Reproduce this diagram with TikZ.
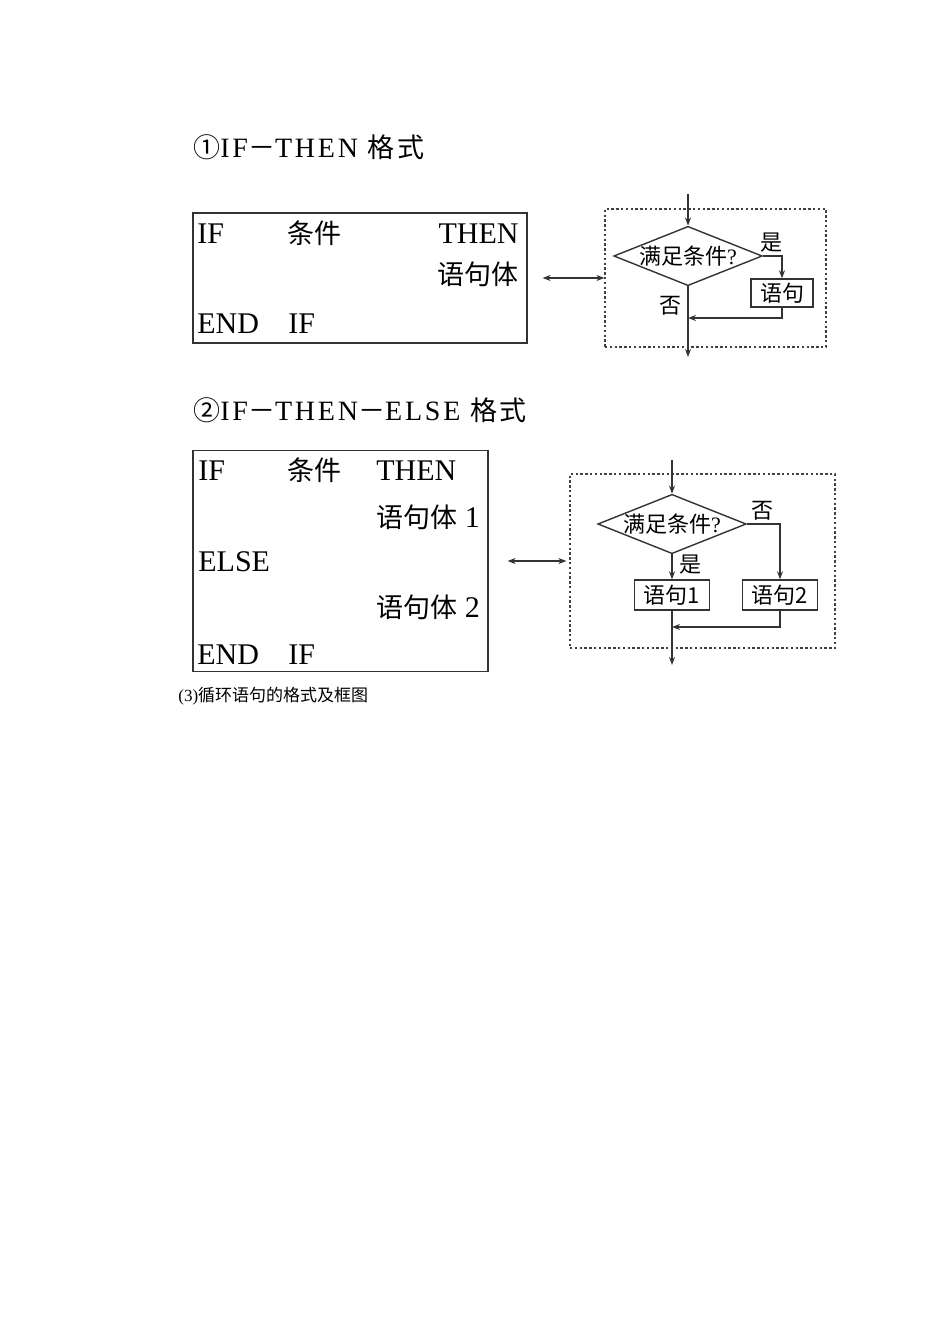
\documentclass[tikz,border=0pt]{standalone}
\usepackage{fontspec}
\setmainfont{Liberation Serif}
\newfontfamily\cjk{Noto Sans CJK SC}
\newfontfamily\titlefont[LetterSpace=10]{Liberation Serif}
\newfontfamily\titlecjk[LetterSpace=8]{Noto Sans CJK SC}
\usetikzlibrary{shapes.geometric,arrows.meta}

\newcommand{\zh}[1]{{\cjk\fontsize{13.5}{16}\selectfont #1}}
\newcommand{\tzh}[1]{{\titlecjk\fontsize{13.5}{16}\selectfont #1}}

\tikzset{
  txt/.style={inner sep=0pt, anchor=base west, font=\fontsize{15}{18}\selectfont},
  ttl/.style={inner sep=0pt, anchor=base west, font=\titlefont\fontsize{14}{17}\selectfont},
  codebox/.style={draw=black!80, line width=0.6pt, inner sep=0pt},
  frame/.style={draw=black!75, line width=0.6pt, dash pattern=on 1.2pt off 1.2pt, inner sep=0pt},
  cond/.style={diamond, draw=black!80, line width=0.7pt, aspect=2.5, inner sep=0pt, font=\fontsize{11}{13}\selectfont\cjk},
  stmt/.style={draw=black!80, line width=0.7pt, inner sep=0pt, font=\fontsize{11}{13}\selectfont\cjk},
  lbl/.style={inner sep=0pt, font=\fontsize{11}{13}\selectfont\cjk},
  arr/.style={draw=black!80, line width=0.7pt, -{Stealth[length=4pt,width=3pt]}},
  dbl/.style={draw=black!80, line width=0.6pt, {Stealth[length=4pt,width=3pt]}-{Stealth[length=4pt,width=3pt]}}
}

\begin{document}
\begin{tikzpicture}[x=0.5pt,y=-0.5pt]
  \useasboundingbox (0,0) rectangle (950,1344);

  % IF-THEN
  \node[ttl] (title1) at (193,157) {\tzh{①}IF\tzh{－}THEN \tzh{格式}};
  \node[codebox, minimum width=167pt, minimum height=65pt] (code1) at (360,278) {};
  \node[txt] (if1) at (197,243) {IF};
  \node[txt] (cnd1) at (287,243) {\zh{条件}};
  \node[txt, anchor=base east] (then1) at (519,243) {THEN};
  \node[txt, anchor=base east] (body1) at (519,284) {\zh{语句体}};
  \node[txt] (end1) at (197,333) {END};
  \node[txt] (endif1) at (288,333) {IF};

  \node[frame, minimum width=110.5pt, minimum height=69pt] (frame1) at (715.5,278) {};
  \draw[dbl] ([xshift=7.5pt]code1.east) -- (frame1.west);

  \coordinate (in1) at (688,194);
  \node[cond] (cond1) at (688,256) {满足条件\textrm{?}};
  \node[stmt, minimum width=31pt, minimum height=14pt] (stmt1) at (782,293) {语句};
  \coordinate (join1) at (688,318);
  \coordinate (out1) at (688,357);
  \draw[arr] (in1) -- (cond1.north);
  \draw[arr] (cond1.east) -| (stmt1.north);
  \draw[arr] (stmt1.south) |- (join1);
  \draw[arr] (cond1.south) -- (out1);
  \node[lbl] (yes1) at (771,243) {是};
  \node[lbl] (no1) at (670,306) {否};

  % IF-THEN-ELSE
  \node[ttl] (title2) at (193,420) {\tzh{②}IF\tzh{－}THEN\tzh{－}ELSE \tzh{格式}};
  \node[codebox, minimum width=147.5pt, minimum height=110.5pt] (code2) at (340.5,561) {};
  \node[txt] (if2) at (198,480) {IF};
  \node[txt] (cnd2) at (287,480) {\zh{条件}};
  \node[txt] (then2) at (376,480) {THEN};
  \node[txt] (bodya) at (376,527) {\zh{语句体} 1};
  \node[txt] (else2) at (198,571) {ELSE};
  \node[txt] (bodyb) at (376,617) {\zh{语句体} 2};
  \node[txt] (end2) at (197,664) {END};
  \node[txt] (endif2) at (288,664) {IF};

  \node[frame, minimum width=132.5pt, minimum height=87pt] (frame2) at (702.5,561) {};
  \draw[dbl] ([xshift=9.5pt]code2.east) -- ([xshift=-1.5pt]frame2.west);

  \coordinate (in2) at (672,460);
  \node[cond] (cond2) at (672,524) {满足条件\textrm{?}};
  \node[stmt, minimum width=37.5pt, minimum height=15pt] (stmta) at (672,595) {语句1};
  \node[stmt, minimum width=37.5pt, minimum height=15pt] (stmtb) at (780,595) {语句2};
  \coordinate (join2) at (672,627);
  \coordinate (out2) at (672,665);
  \draw[arr] (in2) -- (cond2.north);
  \draw[arr] (cond2.south) -- (stmta.north);
  \draw[arr] (cond2.east) -| (stmtb.north);
  \draw[arr] (stmtb.south) |- (join2);
  \draw[arr] (stmta.south) -- (out2);
  \node[lbl] (no2) at (762,511) {否};
  \node[lbl] (yes2) at (690,565) {是};

  \node[txt, font=\fontsize{8.5}{10}\selectfont] (cap) at (178,701) {(3)\cjk 循环语句的格式及框图};
\end{tikzpicture}
\end{document}
